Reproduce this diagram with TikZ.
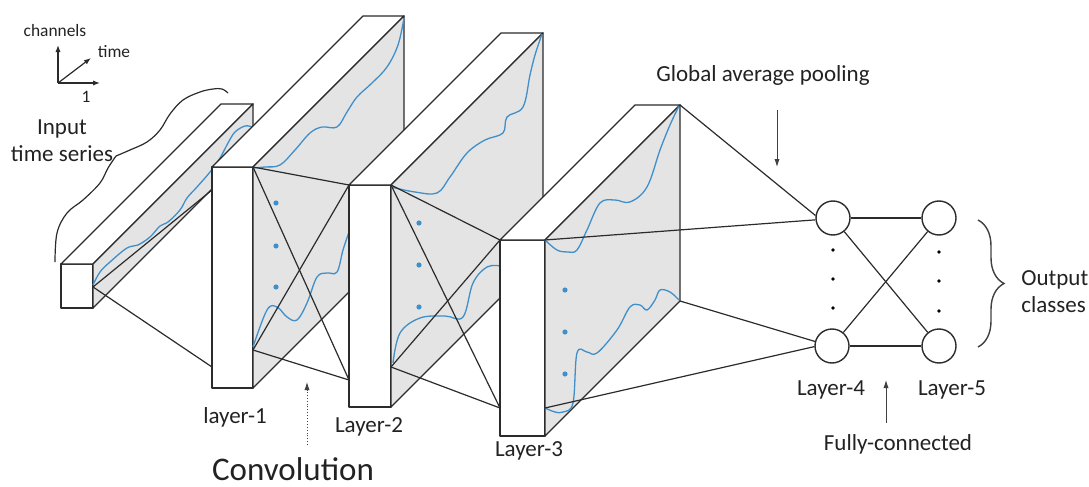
\documentclass[tikz,border=0pt]{standalone}
\usepackage{fontspec}
\setmainfont{Carlito}
\usetikzlibrary{arrows.meta, positioning, decorations.pathreplacing}
\definecolor{faceGray}{HTML}{E4E4E4}
\definecolor{waveBlue}{HTML}{3F8FCB}
\definecolor{edgeDark}{HTML}{2B2B2B}
\definecolor{textDark}{HTML}{222222}

% name, left, top, width, height, depth
\newcommand{\convblock}[6]{%
  \coordinate (#1-tl) at (#2,#3);
  \coordinate (#1-tr) at (#2+#4,#3);
  \coordinate (#1-br) at (#2+#4,#3+#5);
  \coordinate (#1-bl) at (#2,#3+#5);
  \coordinate (#1-btl) at (#2+#6,#3-#6);
  \coordinate (#1-btr) at (#2+#4+#6,#3-#6);
  \coordinate (#1-bbr) at (#2+#4+#6,#3+#5-#6);
  \draw[face] (#1-tl) rectangle (#1-br);
  \draw[face] (#1-tl) -- (#1-btl) -- (#1-btr) -- (#1-tr) -- cycle;
  \draw[side] (#1-tr) -- (#1-btr) -- (#1-bbr) -- (#1-br) -- cycle;
}

\begin{document}
\begin{tikzpicture}[x=0.5pt, y=-0.5pt,
    face/.style={draw=edgeDark, line width=0.7pt, fill=white, line join=round},
    side/.style={face, fill=faceGray},
    wave/.style={draw=waveBlue, line width=0.65pt, smooth, tension=0.6},
    kern/.style={draw=edgeDark, line width=0.6pt},
    neuron/.style={circle, draw=edgeDark, line width=0.7pt, fill=white,
      minimum size=17pt, inner sep=0pt},
    lbl/.style={font=\fontsize{11.5}{13.5}\selectfont, text=textDark, inner sep=0pt},
    axlbl/.style={font=\fontsize{8.7}{10}\selectfont, text=textDark, inner sep=0pt},
    ptr/.style={-{Latex[length=4pt, width=2.6pt]}, line width=0.45pt, black!75},
    axis/.style={-{Latex[length=3.5pt, width=2.6pt]}, line width=0.6pt, edgeDark}]
  \useasboundingbox (0,0) rectangle (1089,487);

  % axes
  \coordinate (ax-o) at (58,83);
  \coordinate (ax-c) at (58,45);
  \coordinate (ax-1) at (100,83);
  \coordinate (ax-t) at (91,58);
  \draw[axis] (ax-o) -- (ax-c);
  \draw[axis] (ax-o) -- (ax-1);
  \draw[axis] (ax-o) -- (ax-t);
  \node[axlbl, anchor=base] (tch) at (55,37) {channels};
  \node[axlbl, anchor=base] (ttm) at (114,57) {time};
  \node[axlbl, anchor=base] (tone) at (86,102) {1};

  % input
  \node[lbl, align=center] (tin) at (62,141) {Input\\time series};
  \draw[line width=0.6pt, edgeDark] plot[smooth, tension=0.6] coordinates
    {(55,262) (57,233) (67,213) (83,200) (100,183) (108,168) (116,156)};
  \draw[line width=0.6pt, edgeDark] plot[smooth, tension=0.6] coordinates
    {(116,156) (130,150) (147,142) (160,130) (170,114) (183,100) (200,92) (213,89) (222,89) (228,93)};
  \convblock{in}{61}{264}{32}{44}{160}
  \draw[wave] plot coordinates {(93,285) (100,272) (110,262) (127,248) (138,245) (150,237)
    (160,226) (168,222) (180,210) (187,198) (197,187) (210,172) (220,158) (228,143)
    (235,132) (245,126) (252,127)};

  % layer-1
  \convblock{l1}{212}{167}{41}{221}{151}
  \draw[wave] plot coordinates {(253,168) (265,167) (280,165) (295,150) (310,133) (322,127)
    (337,127) (347,112) (357,97) (372,83) (387,67) (398,45) (404,18)};
  \draw[wave] plot coordinates {(253,347) (267,310) (277,307) (287,317) (297,320) (307,303)
    (317,277) (327,273) (337,272) (343,250) (349,232)};
  \foreach \y in {203,246,287} \fill[waveBlue] (276,\y) circle (1.3pt);

  % layer-2
  \convblock{l2}{349}{185}{42}{222}{152}
  \draw[wave] plot coordinates {(391,187) (415,192) (437,193) (450,177) (467,153) (485,140)
    (503,133) (507,117) (523,107) (530,75) (535,55) (542,34)};
  \draw[wave] plot coordinates {(393,363) (400,333) (420,318) (445,316) (463,317) (473,283)
    (487,267) (501,266)};
  \foreach \y in {223,265,307} \fill[waveBlue] (419,\y) circle (1.3pt);

  % layer-3
  \convblock{l3}{500}{240}{45}{196}{135}
  \draw[wave] plot coordinates {(545,240) (557,250) (568,252) (577,250) (587,230) (600,203)
    (615,200) (630,202) (647,187) (660,150) (670,125) (679,106)};
  \draw[wave] plot coordinates {(545,408) (555,412) (563,412) (573,403) (577,353) (587,352)
    (597,353) (617,330) (630,307) (640,305) (647,310) (655,300) (660,290) (670,292) (679,300)};
  \foreach \y in {290,332,374} \fill[waveBlue] (565,\y) circle (1.3pt);

  % convolution kernels
  \coordinate (in-k) at (93,287);
  \coordinate (l1-k1) at (212,190);
  \coordinate (l1-k2) at (212,367);
  \coordinate (l1-s) at (253,350);
  \coordinate (l2-k2) at (349,380);
  \coordinate (l2-s) at (391,367);
  \coordinate (l3-k2) at (500,408);
  \coordinate (l3-s) at (545,408);
  \draw[kern] (in-k) -- (l1-k1);
  \draw[kern] (in-k) -- (l1-k2);
  \foreach \a/\b in {l1-tr/l2-tl, l1-tr/l2-k2, l1-s/l2-tl, l1-s/l2-k2,
                     l2-tr/l3-tl, l2-tr/l3-k2, l2-s/l3-tl, l2-s/l3-k2}
    \draw[kern] (\a) -- (\b);

  % fully connected
  \node[neuron] (h1) at (833,218) {};
  \node[neuron] (h2) at (832,346) {};
  \node[neuron] (o1) at (939,218) {};
  \node[neuron] (o2) at (939,346) {};
  \draw[kern] (l3-btr) -- (h1.172);
  \draw[kern] (l3-tr) -- (h1.186);
  \draw[kern] (l3-bbr) -- (h2.165);
  \draw[kern] (l3-s) -- (h2.182);
  \draw[kern] (h1) -- (o1);
  \draw[kern] (h2) -- (o2);
  \draw[kern] (h1) -- (o2);
  \draw[kern] (h2) -- (o1);
  \foreach \y in {250,279,308} \fill[black] (833,\y) circle (0.9pt);
  \foreach \y in {252,281,311} \fill[black] (939,\y) circle (0.9pt);

  % output brace
  \coordinate (br-a) at (978,220);
  \coordinate (br-b) at (978,347);
  \draw[decorate, decoration={brace, amplitude=13pt}, line width=0.7pt, black!75]
    (br-a) -- (br-b);
  \node[lbl, align=left, anchor=west] (tout) at (1021,292) {Output\\classes};

  % labels
  \node[lbl, anchor=base] (lab1) at (235,423) {layer-1};
  \node[lbl, anchor=base] (lab2) at (369,432) {Layer-2};
  \node[lbl, anchor=base] (lab3) at (529,456) {Layer-3};
  \node[lbl, anchor=base] (lab4) at (831,395) {Layer-4};
  \node[lbl, anchor=base] (lab5) at (952,395) {Layer-5};
  \node[lbl, anchor=base] (tgap) at (763,82) {Global average pooling};
  \node[lbl, anchor=base] (tfc) at (898,450) {Fully-connected};
  \node[anchor=base, inner sep=0pt, text=textDark, font=\fontsize{16.5}{20}\selectfont]
    (tconv) at (293,480) {Convolution};

  % pointers
  \coordinate (conv-a) at (307,445);
  \coordinate (conv-b) at (307,382);
  \coordinate (gap-a) at (777,110);
  \coordinate (gap-b) at (777,167);
  \coordinate (fc-a) at (886,423);
  \coordinate (fc-b) at (886,380);
  \draw[ptr, densely dotted] (conv-a) -- (conv-b);
  \draw[ptr] (gap-a) -- (gap-b);
  \draw[ptr] (fc-a) -- (fc-b);
\end{tikzpicture}
\end{document}
